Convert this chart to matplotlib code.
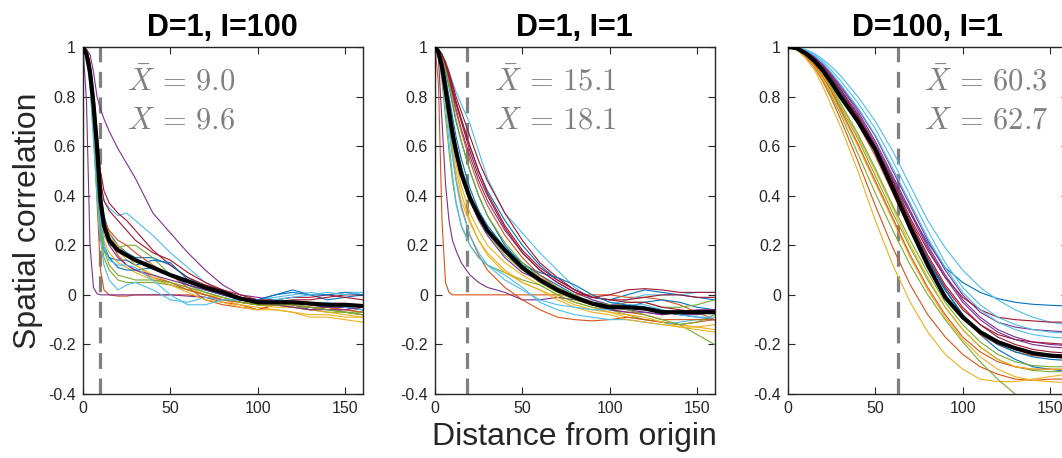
import numpy as np
import matplotlib
matplotlib.use("Agg")
import matplotlib.pyplot as plt

plt.rcParams['font.family'] = ['Liberation Sans', 'DejaVu Sans']
plt.rcParams['mathtext.fontset'] = 'cm'

# MATLAB default line colours
mcol = ['#0072BD', '#D95319', '#EDB120', '#7E2F8E', '#77AC30', '#4DBEEE', '#A2142F']

titles = ['D=1, I=100', 'D=1, I=1', 'D=100, I=1']
xbar = ['9.0', '15.1', '60.3']
xval = ['9.6', '18.1', '62.7']
xmark = [9.6, 18.1, 62.7]
text_x = [25, 34, 78]

# ---- panel 1: D=1, I=100
x1 = [0, 2, 4, 6, 8, 10, 12, 15, 20, 25, 30, 40, 50, 60, 70, 80, 90, 100, 110, 120, 130, 140, 150, 160]
p1_curves = [
    [1, 0.98, 0.92, 0.78, 0.6, 0.42, 0.32, 0.25, 0.2, 0.17, 0.15, 0.15, 0.12, 0.07, 0.03, 0.01, -0.01, -0.02, 0.0, 0.02, 0.0, -0.02, -0.01, 0.0],
    [1, 0.97, 0.88, 0.68, 0.38, 0.1, 0.02, 0.0, -0.005, -0.005, 0.0, 0.0, 0.0, 0.0, -0.01, -0.03, -0.04, -0.06, -0.04, -0.04, -0.05, -0.05, -0.06, -0.07],
    [1, 0.98, 0.9, 0.75, 0.55, 0.38, 0.3, 0.25, 0.18, 0.14, 0.12, 0.08, 0.05, 0.03, 0.0, -0.02, -0.04, -0.05, -0.06, -0.07, -0.09, -0.09, -0.1, -0.11],
    [1, 0.99, 0.97, 0.9, 0.8, 0.75, 0.71, 0.66, 0.59, 0.53, 0.47, 0.33, 0.25, 0.17, 0.1, 0.04, 0.0, -0.01, -0.02, -0.03, -0.04, -0.05, -0.05, -0.06],
    [1, 0.97, 0.88, 0.7, 0.5, 0.33, 0.24, 0.2, 0.19, 0.2, 0.2, 0.15, 0.08, 0.04, 0.01, -0.01, -0.03, -0.04, -0.04, -0.05, -0.06, -0.07, -0.07, -0.08],
    [1, 0.98, 0.92, 0.8, 0.62, 0.45, 0.38, 0.35, 0.32, 0.33, 0.3, 0.24, 0.17, 0.11, 0.05, 0.01, -0.01, -0.02, -0.01, 0.0, 0.01, 0.0, 0.01, 0.01],
    [1, 0.99, 0.94, 0.82, 0.66, 0.5, 0.42, 0.37, 0.33, 0.3, 0.26, 0.18, 0.12, 0.07, 0.04, 0.02, 0.0, -0.02, -0.02, -0.01, -0.01, 0.0, -0.01, -0.02],
    [1, 0.97, 0.86, 0.66, 0.42, 0.25, 0.18, 0.15, 0.14, 0.14, 0.12, 0.14, 0.13, 0.06, 0.02, 0.0, -0.02, -0.03, -0.02, -0.03, -0.04, -0.05, -0.05, -0.06],
    [1, 0.98, 0.9, 0.74, 0.55, 0.38, 0.3, 0.26, 0.22, 0.2, 0.17, 0.12, 0.08, 0.03, -0.02, -0.04, -0.05, -0.06, -0.04, -0.05, -0.06, -0.05, -0.07, -0.08],
    [1, 0.97, 0.87, 0.68, 0.46, 0.3, 0.22, 0.17, 0.13, 0.11, 0.09, 0.06, 0.04, 0.02, 0.0, -0.01, -0.03, -0.04, -0.05, -0.05, -0.06, -0.07, -0.08, -0.09],
    [1, 0.78, 0.2, 0.03, 0.005, 0.0, 0.0, 0.0, 0.0, 0.0, 0.0, 0.0, 0.0, -0.005, -0.01, -0.02, -0.02, -0.03, -0.03, -0.04, -0.06, -0.05, -0.05, -0.06],
    [1, 0.96, 0.85, 0.65, 0.42, 0.25, 0.15, 0.1, 0.06, 0.05, 0.05, 0.05, 0.04, 0.02, 0.0, -0.02, -0.03, -0.04, -0.04, -0.05, -0.05, -0.06, -0.07, -0.08],
    [1, 0.96, 0.84, 0.62, 0.4, 0.22, 0.12, 0.06, 0.02, 0.04, 0.05, 0.02, -0.02, -0.03, -0.01, -0.02, -0.02, -0.03, -0.02, -0.03, -0.04, -0.03, -0.05, -0.06],
    [1, 0.99, 0.93, 0.8, 0.62, 0.46, 0.38, 0.34, 0.3, 0.26, 0.22, 0.17, 0.14, 0.09, 0.05, 0.02, -0.01, -0.02, -0.03, -0.02, -0.02, -0.01, 0.0, 0.0],
    [1, 0.97, 0.88, 0.7, 0.48, 0.3, 0.2, 0.15, 0.11, 0.1, 0.1, 0.11, 0.08, 0.04, 0.02, 0.0, -0.02, -0.02, 0.0, 0.01, 0.0, 0.0, 0.01, 0.0],
    [1, 0.98, 0.91, 0.76, 0.56, 0.38, 0.28, 0.22, 0.16, 0.12, 0.1, 0.07, 0.05, 0.02, 0.0, -0.02, -0.03, -0.04, -0.04, -0.04, -0.05, -0.06, -0.06, -0.07],
    [1, 0.97, 0.88, 0.7, 0.5, 0.34, 0.27, 0.23, 0.2, 0.16, 0.12, 0.07, 0.04, 0.01, -0.02, -0.03, -0.05, -0.06, -0.06, -0.07, -0.08, -0.08, -0.09, -0.09],
    [1, 0.98, 0.9, 0.74, 0.54, 0.36, 0.26, 0.2, 0.15, 0.12, 0.1, 0.08, 0.06, 0.04, 0.02, 0.0, -0.02, -0.03, -0.04, -0.05, -0.06, -0.06, -0.06, -0.05],
    [1, 0.97, 0.87, 0.68, 0.46, 0.28, 0.18, 0.12, 0.08, 0.07, 0.06, 0.06, 0.05, 0.03, 0.01, -0.01, -0.03, -0.04, -0.04, -0.04, -0.05, -0.06, -0.07, -0.07],
    [1, 0.97, 0.88, 0.7, 0.48, 0.3, 0.2, 0.14, 0.12, 0.12, 0.11, 0.06, 0.0, -0.04, -0.04, -0.02, -0.02, -0.03, -0.02, -0.01, 0.0, 0.01, 0.0, 0.01],
]
p1_mean = [1, 0.97, 0.9, 0.77, 0.6, 0.38, 0.28, 0.22, 0.18, 0.16, 0.14, 0.11, 0.08, 0.055, 0.03, 0.01, -0.015, -0.03, -0.03, -0.03, -0.035, -0.04, -0.04, -0.045]

# ---- panel 2: D=1, I=1
x2 = x1
p2_curves = [
    [1, 0.99, 0.97, 0.93, 0.88, 0.83, 0.78, 0.71, 0.6, 0.5, 0.42, 0.3, 0.2, 0.12, 0.06, 0.02, -0.01, -0.02, 0.0, 0.02, 0.01, 0.0, -0.01, -0.02],
    [1, 0.85, 0.3, 0.05, 0.01, 0.0, 0.0, 0.0, 0.0, 0.0, 0.0, 0.0, 0.0, 0.0, 0.0, 0.0, 0.0, 0.0, -0.01, -0.01, -0.02, -0.04, -0.07, -0.1],
    [1, 0.97, 0.9, 0.8, 0.7, 0.6, 0.53, 0.44, 0.33, 0.26, 0.2, 0.13, 0.08, 0.04, 0.0, -0.03, -0.05, -0.07, -0.09, -0.1, -0.11, -0.12, -0.13, -0.14],
    [1, 0.95, 0.7, 0.45, 0.3, 0.22, 0.18, 0.13, 0.08, 0.05, 0.03, 0.01, -0.02, -0.02, -0.01, -0.02, -0.04, -0.05, -0.06, -0.07, -0.08, -0.07, -0.07, -0.06],
    [1, 0.96, 0.86, 0.72, 0.58, 0.46, 0.37, 0.28, 0.2, 0.15, 0.12, 0.09, 0.06, 0.04, 0.0, -0.03, -0.05, -0.06, -0.08, -0.1, -0.11, -0.12, -0.16, -0.2],
    [1, 0.99, 0.97, 0.94, 0.9, 0.86, 0.82, 0.77, 0.69, 0.58, 0.47, 0.33, 0.25, 0.17, 0.1, 0.03, -0.02, -0.04, -0.02, 0.0, 0.0, 0.0, 0.01, 0.01],
    [1, 0.99, 0.97, 0.94, 0.9, 0.85, 0.8, 0.74, 0.64, 0.54, 0.46, 0.33, 0.22, 0.13, 0.07, 0.02, -0.01, -0.02, -0.02, -0.01, 0.0, 0.0, -0.01, -0.01],
    [1, 0.98, 0.94, 0.88, 0.8, 0.72, 0.64, 0.55, 0.43, 0.34, 0.28, 0.19, 0.13, 0.08, 0.04, 0.0, -0.04, -0.06, -0.05, -0.03, -0.02, -0.03, -0.05, -0.06],
    [1, 0.97, 0.9, 0.8, 0.68, 0.57, 0.47, 0.36, 0.24, 0.16, 0.1, 0.03, -0.02, -0.06, -0.09, -0.1, -0.105, -0.1, -0.09, -0.1, -0.11, -0.12, -0.11, -0.1],
    [1, 0.98, 0.92, 0.82, 0.7, 0.58, 0.5, 0.41, 0.3, 0.22, 0.16, 0.09, 0.05, 0.02, -0.01, -0.04, -0.06, -0.07, -0.08, -0.09, -0.11, -0.13, -0.13, -0.12],
    [1, 0.99, 0.96, 0.92, 0.87, 0.81, 0.75, 0.67, 0.56, 0.46, 0.38, 0.26, 0.17, 0.1, 0.05, 0.01, -0.02, -0.04, -0.04, -0.05, -0.07, -0.08, -0.08, -0.07],
    [1, 0.98, 0.94, 0.87, 0.78, 0.69, 0.61, 0.52, 0.41, 0.32, 0.25, 0.16, 0.1, 0.05, 0.01, -0.02, -0.04, -0.05, -0.03, -0.03, -0.05, -0.05, -0.04, -0.02],
    [1, 0.97, 0.88, 0.76, 0.62, 0.48, 0.38, 0.28, 0.2, 0.15, 0.12, 0.08, 0.03, -0.03, -0.06, -0.08, -0.09, -0.1, -0.1, -0.11, -0.12, -0.11, -0.1, -0.1],
    [1, 0.99, 0.97, 0.93, 0.89, 0.84, 0.78, 0.71, 0.6, 0.5, 0.41, 0.28, 0.18, 0.11, 0.06, 0.02, -0.01, -0.02, -0.03, -0.03, -0.05, -0.06, -0.07, -0.06],
    [1, 0.98, 0.95, 0.9, 0.84, 0.77, 0.7, 0.62, 0.5, 0.4, 0.32, 0.2, 0.12, 0.09, 0.07, 0.04, 0.0, -0.03, -0.04, -0.05, -0.06, -0.08, -0.09, -0.1],
    [1, 0.99, 0.96, 0.92, 0.86, 0.8, 0.74, 0.66, 0.54, 0.44, 0.36, 0.24, 0.15, 0.08, 0.03, -0.01, -0.04, -0.06, -0.07, -0.08, -0.1, -0.1, -0.1, -0.1],
    [1, 0.97, 0.9, 0.79, 0.67, 0.56, 0.47, 0.38, 0.29, 0.22, 0.17, 0.1, 0.05, 0.02, -0.02, -0.05, -0.07, -0.08, -0.1, -0.11, -0.12, -0.13, -0.14, -0.15],
    [1, 0.98, 0.93, 0.86, 0.78, 0.69, 0.6, 0.5, 0.38, 0.3, 0.24, 0.15, 0.09, 0.06, 0.03, -0.01, -0.04, -0.06, -0.07, -0.07, -0.08, -0.07, -0.06, -0.06],
    [1, 0.99, 0.96, 0.91, 0.85, 0.78, 0.71, 0.62, 0.5, 0.4, 0.32, 0.21, 0.13, 0.07, 0.03, 0.0, -0.03, -0.04, -0.06, -0.08, -0.1, -0.12, -0.11, -0.08],
    [1, 0.97, 0.9, 0.8, 0.68, 0.56, 0.46, 0.35, 0.24, 0.17, 0.12, 0.06, 0.02, -0.02, -0.04, -0.05, -0.06, -0.06, -0.04, -0.04, -0.06, -0.08, -0.09, -0.09],
    [1, 0.99, 0.97, 0.93, 0.88, 0.82, 0.77, 0.7, 0.58, 0.48, 0.4, 0.27, 0.17, 0.1, 0.05, 0.01, -0.01, 0.0, 0.02, 0.025, 0.02, 0.01, 0.01, 0.01],
]
p2_mean = [1, 0.98, 0.92, 0.83, 0.74, 0.65, 0.58, 0.49, 0.39, 0.32, 0.26, 0.18, 0.11, 0.06, 0.02, -0.01, -0.035, -0.05, -0.05, -0.055, -0.07, -0.07, -0.07, -0.07]

# ---- panel 3: D=100, I=1
x3 = [0, 5, 10, 15, 20, 25, 30, 40, 50, 60, 70, 80, 90, 100, 110, 120, 130, 140, 150, 160]
p3_curves = [
    [1, 0.995, 0.98, 0.955, 0.92, 0.875, 0.825, 0.72, 0.6, 0.46, 0.33, 0.21, 0.11, 0.05, 0.01, -0.015, -0.03, -0.038, -0.042, -0.045],
    [1, 0.99, 0.96, 0.92, 0.86, 0.79, 0.71, 0.54, 0.36, 0.19, 0.04, -0.08, -0.17, -0.24, -0.29, -0.32, -0.34, -0.345, -0.34, -0.34],
    [1, 0.99, 0.955, 0.91, 0.84, 0.76, 0.68, 0.5, 0.3, 0.12, -0.03, -0.15, -0.24, -0.3, -0.34, -0.35, -0.35, -0.34, -0.33, -0.32],
    [1, 0.995, 0.985, 0.96, 0.93, 0.89, 0.845, 0.75, 0.64, 0.5, 0.36, 0.22, 0.1, 0.0, -0.07, -0.11, -0.13, -0.14, -0.145, -0.15],
    [1, 0.99, 0.965, 0.925, 0.87, 0.8, 0.73, 0.57, 0.41, 0.26, 0.12, 0.0, -0.1, -0.19, -0.27, -0.34, -0.4, -0.46, -0.5, -0.54],
    [1, 0.997, 0.99, 0.975, 0.95, 0.92, 0.885, 0.8, 0.7, 0.58, 0.44, 0.3, 0.19, 0.1, 0.03, -0.02, -0.06, -0.09, -0.11, -0.12],
    [1, 0.995, 0.982, 0.958, 0.925, 0.88, 0.83, 0.725, 0.6, 0.46, 0.31, 0.18, 0.07, -0.01, -0.06, -0.09, -0.1, -0.105, -0.11, -0.11],
    [1, 0.995, 0.98, 0.95, 0.91, 0.86, 0.81, 0.7, 0.58, 0.43, 0.28, 0.14, 0.02, -0.08, -0.16, -0.22, -0.26, -0.29, -0.3, -0.31],
    [1, 0.995, 0.978, 0.95, 0.91, 0.86, 0.8, 0.69, 0.56, 0.41, 0.26, 0.12, 0.0, -0.09, -0.16, -0.2, -0.23, -0.245, -0.25, -0.255],
    [1, 0.99, 0.965, 0.925, 0.87, 0.81, 0.74, 0.6, 0.45, 0.3, 0.15, 0.02, -0.09, -0.18, -0.25, -0.3, -0.33, -0.345, -0.35, -0.355],
    [1, 0.996, 0.985, 0.962, 0.93, 0.885, 0.84, 0.74, 0.62, 0.48, 0.34, 0.2, 0.08, -0.02, -0.09, -0.14, -0.17, -0.19, -0.2, -0.205],
    [1, 0.99, 0.97, 0.935, 0.885, 0.825, 0.76, 0.63, 0.48, 0.33, 0.19, 0.06, -0.05, -0.14, -0.21, -0.26, -0.29, -0.305, -0.31, -0.31],
    [1, 0.996, 0.985, 0.965, 0.935, 0.895, 0.85, 0.755, 0.645, 0.51, 0.37, 0.23, 0.11, 0.01, -0.06, -0.11, -0.14, -0.16, -0.17, -0.175],
    [1, 0.995, 0.98, 0.955, 0.92, 0.875, 0.82, 0.715, 0.59, 0.44, 0.29, 0.15, 0.03, -0.06, -0.12, -0.16, -0.18, -0.19, -0.195, -0.2],
    [1, 0.995, 0.98, 0.955, 0.915, 0.87, 0.815, 0.71, 0.58, 0.43, 0.28, 0.14, 0.02, -0.08, -0.15, -0.2, -0.23, -0.25, -0.26, -0.265],
    [1, 0.99, 0.968, 0.93, 0.88, 0.82, 0.75, 0.61, 0.46, 0.31, 0.16, 0.03, -0.08, -0.17, -0.23, -0.27, -0.29, -0.3, -0.3, -0.3],
    [1, 0.992, 0.97, 0.935, 0.885, 0.83, 0.77, 0.64, 0.5, 0.35, 0.2, 0.07, -0.05, -0.14, -0.21, -0.26, -0.29, -0.3, -0.3, -0.3],
    [1, 0.996, 0.984, 0.96, 0.925, 0.88, 0.83, 0.73, 0.61, 0.47, 0.33, 0.19, 0.07, -0.03, -0.1, -0.15, -0.18, -0.2, -0.21, -0.215],
    [1, 0.992, 0.97, 0.938, 0.89, 0.835, 0.775, 0.65, 0.51, 0.36, 0.22, 0.09, -0.03, -0.12, -0.19, -0.24, -0.27, -0.285, -0.29, -0.29],
    [1, 0.997, 0.988, 0.97, 0.942, 0.905, 0.865, 0.775, 0.67, 0.54, 0.4, 0.26, 0.13, 0.03, -0.04, -0.09, -0.12, -0.14, -0.15, -0.155],
    [1, 0.995, 0.98, 0.955, 0.92, 0.875, 0.82, 0.715, 0.59, 0.45, 0.3, 0.16, 0.04, -0.05, -0.12, -0.17, -0.2, -0.22, -0.23, -0.235],
    [1, 0.995, 0.98, 0.952, 0.915, 0.868, 0.815, 0.705, 0.58, 0.43, 0.28, 0.14, 0.02, -0.08, -0.15, -0.19, -0.22, -0.235, -0.24, -0.245],
]
p3_mean = [1, 0.995, 0.975, 0.945, 0.905, 0.855, 0.8, 0.7, 0.585, 0.43, 0.27, 0.12, -0.01, -0.09, -0.15, -0.19, -0.215, -0.235, -0.245, -0.25]

panels = [(x1, p1_curves, p1_mean), (x2, p2_curves, p2_mean), (x3, p3_curves, p3_mean)]

fig = plt.figure(figsize=(10.62, 4.58), dpi=100)
lefts = [83/1062, 435/1062, 788/1062]
axw = 279.5/1062
bottom = 64/458
axh = 347/458
dark = '#262626'

for k, (xs, curves, mean) in enumerate(panels):
    ax = fig.add_axes([lefts[k], bottom, axw, axh])
    ax.axvline(xmark[k], color='#808080', lw=2.3, dashes=(5, 3), zorder=1)
    for i, c in enumerate(curves):
        ax.plot(xs, c, color=mcol[i % 7], lw=0.8, zorder=2)
    ax.plot(xs, mean, color='k', lw=3, zorder=3)
    ax.set_xlim(0, 160)
    ax.set_ylim(-0.4, 1)
    ax.set_xticks([0, 50, 100, 150])
    ax.set_yticks([-0.4, -0.2, 0, 0.2, 0.4, 0.6, 0.8, 1])
    ax.set_yticklabels(['-0.4', '-0.2', '0', '0.2', '0.4', '0.6', '0.8', '1'])
    ax.tick_params(direction='in', top=True, right=True, length=5, width=0.8,
                   labelsize=11.5, colors=dark, pad=5)
    for s in ax.spines.values():
        s.set_color(dark)
        s.set_linewidth(1.0)
    ax.set_title(titles[k], fontsize=22, fontweight='bold', pad=8)
    ax.text(text_x[k], 0.86, r'$\bar{X}\,=\,%s$' % xbar[k], fontsize=22,
            color='#808080', va='center', ha='left')
    ax.text(text_x[k], 0.705, r'$X\,=\,%s$' % xval[k], fontsize=22,
            color='#808080', va='center', ha='left')
    if k == 0:
        ax.set_ylabel('Spatial correlation', fontsize=23, color=dark, labelpad=4)
    if k == 1:
        ax.set_xlabel('Distance from origin', fontsize=23, color=dark, labelpad=4)

fig.savefig('out.png', dpi=100)
